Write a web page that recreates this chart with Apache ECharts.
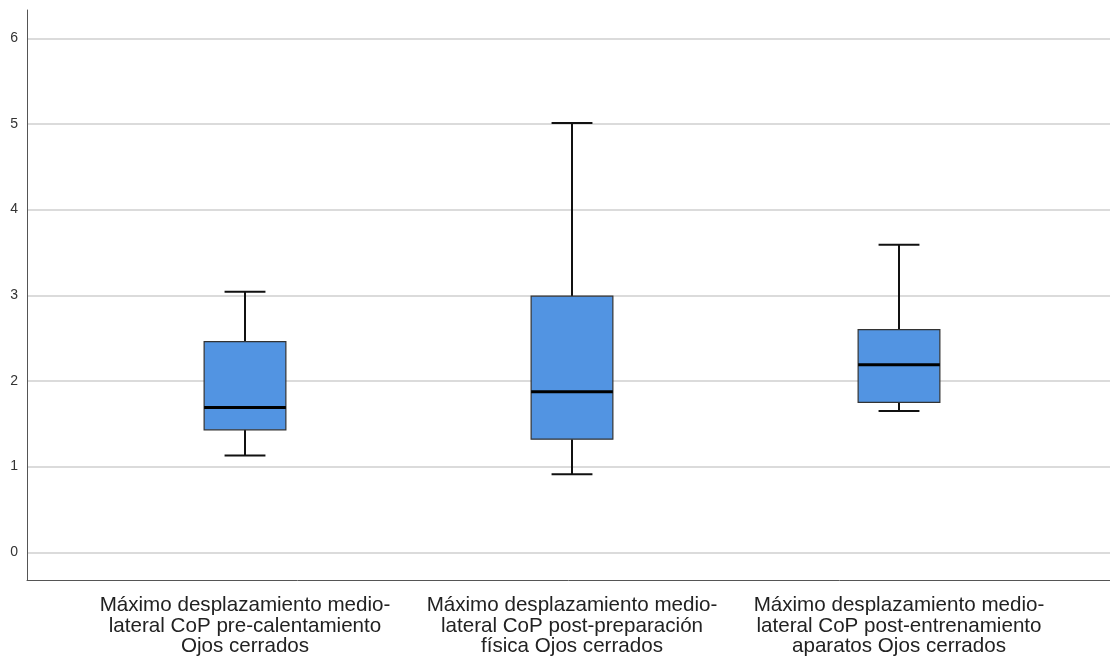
<!DOCTYPE html>
<html>
<head>
<meta charset="utf-8">
<script src="https://cdn.jsdelivr.net/npm/echarts@6/dist/echarts.min.js"></script>
<style>html,body{margin:0;padding:0;background:#fff;}#c{width:1110px;height:658px;}</style>
</head>
<body>
<div id="c"></div>
<script>
const categories = [
  'Máximo desplazamiento medio-\nlateral CoP pre-calentamiento\nOjos cerrados',
  'Máximo desplazamiento medio-\nlateral CoP post-preparación\nfísica Ojos cerrados',
  'Máximo desplazamiento medio-\nlateral CoP post-entrenamiento\naparatos Ojos cerrados'
];
const whiskerLow  = [1.13, 0.91, 1.65];
const q1          = [1.43, 1.32, 1.75];
const median      = [1.69, 1.875, 2.19];
const q3          = [2.46, 2.99, 2.60];
const whiskerHigh = [3.04, 5.01, 3.59];
const yTicks = [0, 1, 2, 3, 4, 5, 6];

const chart = echarts.init(document.getElementById('c'), null, {renderer: 'canvas'});
const rows = categories.map((c, i) => [i, whiskerLow[i], q1[i], median[i], q3[i], whiskerHigh[i]]);
const FONT = '"Liberation Sans", Arial, sans-serif';

chart.setOption({
  animation: false,
  backgroundColor: '#fff',
  grid: [
    {left: 27, right: 0, top: 10, height: 570},
    {left: 27, right: 0, top: 38.3, height: 514},
    {left: 81.5, width: 981, top: 38.3, height: 514}
  ],
  xAxis: [
    {gridIndex: 0, type: 'value', min: 0, max: 1, axisLine: {show: true, onZero: false, lineStyle: {color: '#555', width: 1}}, axisTick: {show: false}, axisLabel: {show: false}, splitLine: {show: false}},
    {gridIndex: 1, type: 'value', min: 0, max: 1, show: false},
    {gridIndex: 2, type: 'category', data: categories, axisLine: {show: false}, axisTick: {show: false}, splitLine: {show: false},
     axisLabel: {interval: 0, margin: 43, fontSize: 20.6, lineHeight: 20.6, color: '#222', fontFamily: FONT, align: 'center'}}
  ],
  yAxis: [
    {gridIndex: 0, type: 'value', min: -0.33, max: 6.33, axisLine: {show: true, onZero: false, lineStyle: {color: '#555', width: 1}}, axisTick: {show: false}, axisLabel: {show: false}, splitLine: {show: false}},
    {gridIndex: 1, type: 'value', min: yTicks[0], max: yTicks[yTicks.length - 1], interval: 1, axisLine: {show: false}, axisTick: {show: false},
     axisLabel: {margin: 9, fontSize: 14, color: '#333', fontFamily: FONT},
     splitLine: {show: true, lineStyle: {color: '#cfcfcf', width: 1.5}}},
    {gridIndex: 2, type: 'value', min: yTicks[0], max: yTicks[yTicks.length - 1], show: false}
  ],
  series: [{
    type: 'custom',
    xAxisIndex: 2,
    yAxisIndex: 2,
    data: rows,
    encode: {x: 0, y: [1, 2, 3, 4, 5]},
    renderItem: function (params, api) {
      const xi = api.value(0);
      const band = api.size([1, 0])[0];
      const boxW = band * 0.25;
      const capW = band * 0.125;
      const pLow = api.coord([xi, api.value(1)]);
      const pQ1 = api.coord([xi, api.value(2)]);
      const pMed = api.coord([xi, api.value(3)]);
      const pQ3 = api.coord([xi, api.value(4)]);
      const pHigh = api.coord([xi, api.value(5)]);
      const cx = pMed[0];
      const wStyle = {stroke: '#111', lineWidth: 2, fill: null};
      return {
        type: 'group',
        children: [
          {type: 'line', shape: {x1: cx, y1: pHigh[1], x2: cx, y2: pQ3[1]}, style: wStyle},
          {type: 'line', shape: {x1: cx, y1: pQ1[1], x2: cx, y2: pLow[1]}, style: wStyle},
          {type: 'line', shape: {x1: cx - capW / 2, y1: pHigh[1], x2: cx + capW / 2, y2: pHigh[1]}, style: wStyle},
          {type: 'line', shape: {x1: cx - capW / 2, y1: pLow[1], x2: cx + capW / 2, y2: pLow[1]}, style: wStyle},
          {type: 'rect', shape: {x: cx - boxW / 2, y: pQ3[1], width: boxW, height: pQ1[1] - pQ3[1]}, style: {fill: '#5294e2', stroke: '#333', lineWidth: 1.2}},
          {type: 'line', shape: {x1: cx - boxW / 2, y1: pMed[1], x2: cx + boxW / 2, y2: pMed[1]}, style: {stroke: '#000', lineWidth: 3}}
        ]
      };
    },
    z: 10
  }]
});
</script>
</body>
</html>
